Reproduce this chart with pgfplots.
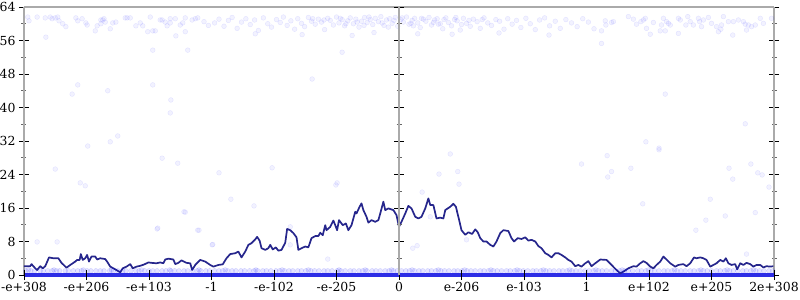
\documentclass[border=0pt]{standalone}
\usepackage{fontspec}
\setmainfont{DejaVu Serif}
\usepackage{pgfplots}
\pgfplotsset{compat=1.18}
\definecolor{lineblue}{RGB}{38,38,140}
\definecolor{zeroblue}{RGB}{45,45,230}
\definecolor{axgray}{RGB}{170,170,170}
\begin{document}
\begin{tikzpicture}
\useasboundingbox (-24bp,-25bp) rectangle (776bp,275bp);
\pgfplotsset{
  every axis/.append style={
    scale only axis, width=750bp, height=268bp,
    ymin=0, ymax=64,
    tick label style={font=\fontsize{12.5}{14}\selectfont},
    /pgf/number format/assume math mode=true,
    major tick length=10bp, minor tick length=5bp, tick align=center,
    every major tick/.style={black, line width=0.9bp},
    every minor tick/.style={gray!80!black, line width=0.8bp},
  },
  pts/.style={only marks, mark=*, mark size=2.4bp,
    mark options={draw=blue, fill=blue, draw opacity=0.09, fill opacity=0.05}},
}
\begin{axis}[
  at={(0,0)}, anchor=south west,
  xmin=0, xmax=12,
  axis x line*=top, axis y line*=box,
  xtick=\empty,
  ytick={0,8,...,64}, minor y tick num=1,
  ytick pos=both, yticklabel pos=left,
  axis line style={draw=axgray, line width=1.6bp, -},
  clip=false,
]
% top band
\addplot[pts] coordinates {
(0.06,61.6)(0.08,60.7)(0.21,61.6)(0.34,61.4)(0.42,61.6)(0.45,61.2)(0.50,61.4)(0.54,61.6)(0.56,60.7)(0.62,60.0)(0.67,59.3)(0.35,56.8)(0.83,61.4)(0.86,60.7)(0.93,61.2)(0.99,60.2)(1.01,59.7)(1.14,58.3)(1.17,59.5)(1.23,60.0)(1.23,60.9)(1.26,60.9)(1.28,61.2)(1.30,60.4)(1.38,58.8)(1.42,60.2)(1.47,60.4)(1.62,61.4)(1.65,61.4)(1.70,61.4)(1.79,59.5)(1.86,60.2)(1.90,59.5)(1.98,58.1)(2.02,61.6)(2.06,58.3)(2.10,58.3)(2.18,60.9)(2.21,60.9)(2.26,60.4)(2.29,59.5)(2.34,61.2)(2.34,60.2)(2.42,61.2)(2.43,57.1)(2.50,59.7)(2.54,60.2)(2.58,61.4)(2.58,58.1)(2.69,60.9)(2.74,61.2)(2.78,61.4)(2.88,60.5)(2.95,59.6)
(3.05,60.2)(3.12,61.1)(3.20,59.4)(3.27,60.8)(3.33,61.5)(3.41,58.9)(3.48,60.4)(3.55,61.2)(3.62,59.8)(3.69,60.9)(3.75,58.4)(3.83,61.4)(3.90,60.0)(3.96,59.2)(4.04,61.0)(4.10,60.3)(4.15,61.6)(4.21,59.6)(4.27,60.7)(4.33,58.7)(4.38,61.2)(4.44,60.1)(4.49,59.3)(4.55,61.5)(4.60,60.6)(4.66,59.9)(4.71,61.1)(4.76,60.4)(4.81,58.6)(4.86,61.3)(4.90,60.8)(4.95,59.7)(5.00,61.6)(5.04,60.2)(5.09,61.0)(5.13,59.5)(5.18,60.7)(5.22,61.4)(5.27,60.0)(5.31,61.1)(5.36,59.2)(5.40,60.6)(5.45,61.5)(5.49,60.3)(5.54,61.0)(5.58,59.8)(5.62,61.3)(5.67,60.5)(5.71,61.7)(5.76,59.6)(5.80,60.9)(5.85,61.2)(5.89,60.1)(5.94,61.5)(5.98,59.4)(6.03,61.0)(6.07,60.4)(6.12,61.6)(6.16,59.9)(6.21,60.8)(6.25,61.3)(6.30,60.2)(6.34,59.1)(6.39,61.1)(6.43,60.6)(6.48,61.5)(6.52,59.7)(6.57,60.9)(6.61,61.2)(6.66,60.0)(6.70,58.8)(6.75,61.4)(6.79,60.3)(6.84,59.5)(6.89,61.0)(6.93,60.7)(6.98,58.5)(7.03,61.3)(7.08,60.1)(7.14,59.4)(7.19,61.1)(7.25,60.5)(7.30,58.9)(7.36,61.4)(7.42,60.2)(7.48,59.6)(7.55,61.0)(7.61,60.6)(7.68,58.7)(7.74,61.2)(7.81,59.9)(7.88,60.8)(7.95,59.1)(8.03,61.3)(8.10,60.0)(8.18,58.6)(8.25,60.9)(8.33,61.4)(8.41,59.5)(8.50,60.6)(8.58,58.9)(8.67,61.0)(8.76,60.2)(8.85,59.3)(8.94,61.2)(9.03,60.4)(9.12,58.8)
(4.45,57.4)(5.60,57.9)(6.30,57.6)(7.60,57.8)(5.25,57.2)(6.85,57.5)(3.70,57.6)(8.40,57.3)
(4.62,61.2)(4.80,60.9)(5.06,61.3)(5.33,60.4)(5.52,61.6)(5.73,60.2)(5.92,60.8)(6.05,61.4)(6.19,60.1)(6.36,61.3)(6.55,60.3)(6.72,61.0)(6.91,61.5)(7.12,60.8)(7.33,61.0)(5.15,60.0)(5.44,59.6)(5.83,59.2)(6.23,59.5)(6.63,59.9)(7.00,59.8)
(9.30,60.7)(9.31,59.7)(9.24,58.3)(9.40,60.3)(9.43,60.5)(9.67,61.7)(9.75,61.1)(9.80,59.9)(9.87,60.5)(9.91,60.9)(9.94,61.3)(9.96,58.9)(10.02,57.5)(10.07,60.3)(10.18,58.3)(10.20,59.7)(10.23,61.3)(10.26,58.3)(10.28,60.5)(10.31,60.1)(10.34,59.7)(10.47,61.3)(10.50,60.9)(10.47,57.7)(10.59,59.7)(10.62,61.7)(10.66,60.5)(10.71,59.7)(10.79,61.3)(10.81,60.5)(10.84,59.3)(10.87,60.9)(10.95,61.5)(11.00,60.1)(11.08,59.3)(11.11,58.1)(11.15,58.7)(11.16,59.7)(11.19,61.7)(11.27,60.5)(11.34,57.3)(11.35,60.5)(11.43,60.9)(11.51,60.5)(11.54,59.9)(11.56,58.5)(11.59,59.7)(11.64,59.3)(11.70,59.7)(11.78,61.3)(11.83,60.1)(11.96,61.3)(9.24,55.3)
};
% sparse middle points
\addplot[pts] coordinates {
(2.06,53.7)(2.62,53.7)(0.86,45.4)(0.77,43.2)(2.06,45.4)(1.34,44.0)(2.35,41.8)(2.34,38.7)(1.50,33.2)(1.38,31.8)(1.02,30.8)
(0.50,25.3)(0.90,22.0)(0.98,21.3)(0.21,7.9)(0.53,7.9)(2.21,27.9)(2.46,26.7)(2.58,15.0)(2.14,11.2)(2.78,10.7)
(3.12,24.4)(3.97,25.6)(3.31,18.1)(3.68,16.5)(5.01,22.0)(3.01,7.2)(4.26,7.2)(4.86,3.8)(5.09,53.2)(4.61,46.8)
(4.99,21.5)(4.26,11.5)(2.56,15.1)(2.13,11.0)(2.80,10.7)(3.02,7.3)
(6.82,28.9)(6.64,24.1)(6.94,24.7)(6.96,21.7)(6.37,19.8)(8.92,26.5)(6.22,6.4)(6.29,7.0)(6.50,13.9)(7.08,8.4)
(9.33,28.5)(9.40,24.7)(9.34,23.4)(9.71,25.5)(9.90,17.0)(10.16,29.9)(11.28,25.5)(11.63,26.5)(11.74,24.4)(11.81,23.9)(11.34,22.9)(10.98,18.1)(10.91,13.1)(11.22,14.1)(11.70,14.9)(10.75,10.7)(11.56,5.0)(11.92,21.0)
(10.26,43.2)(11.54,36.1)(9.95,31.8)(10.16,30.3)
};
% band at 1
\addplot[pts, mark options={draw=blue, fill=blue, draw opacity=0.14, fill opacity=0.10}] coordinates {
(0.03,1)(0.11,1)(0.17,1)(0.26,1)(0.31,1)(0.38,1)(0.45,1)(0.52,1)(0.57,1)(0.66,1)(0.71,1)(0.79,1)(0.86,1)(0.92,1)(1.01,1)(1.07,1)(1.15,1)(1.22,1)(1.28,1)(1.37,1)(1.43,1)(1.50,1)(1.58,1)(1.63,1)(1.71,1)(1.79,1)(1.84,1)(1.93,1)(2.00,1)(2.06,1)(2.13,1)(2.21,1)(2.27,1)(2.35,1)(2.41,1)(2.48,1)(2.56,1)(2.62,1)(2.70,1)(2.77,1)(2.83,1)(2.91,1)(2.97,1)(3.05,1)(3.12,1)(3.18,1)(3.26,1)(3.33,1)(3.39,1)(3.47,1)(3.53,1)(3.61,1)(3.68,1)(3.74,1)(3.82,1)(3.88,1)(3.95,1)(4.03,1)(4.09,1)(4.17,1)(4.24,1)(4.30,1)(4.38,1)(4.44,1)(4.51,1)(4.59,1)(4.65,1)(4.72,1)(4.80,1)(4.86,1)(4.93,1)(5.01,1)(5.07,1)(5.14,1)(5.22,1)(5.28,1)(5.36,1)(5.42,1)(5.49,1)(5.57,1)(5.63,1)(5.70,1)(5.78,1)(5.84,1)(5.91,1)(5.97,1)(6.04,1)(6.11,1)(6.17,1)(6.25,1)(6.32,1)(6.38,1)(6.46,1)(6.52,1)(6.59,1)(6.67,1)(6.73,1)(6.80,1)(6.88,1)(6.94,1)(7.01,1)(7.09,1)(7.15,1)(7.22,1)(7.30,1)(7.36,1)(7.43,1)(7.51,1)(7.57,1)(7.64,1)(7.72,1)(7.78,1)(7.85,1)(7.93,1)(7.99,1)(8.06,1)(8.14,1)(8.20,1)(8.27,1)(8.35,1)(8.41,1)(8.48,1)(8.56,1)(8.62,1)(8.69,1)(8.77,1)(8.83,1)(8.90,1)(8.98,1)(9.04,1)(9.11,1)(9.19,1)(9.25,1)(9.32,1)(9.40,1)(9.46,1)(9.53,1)(9.61,1)(9.67,1)(9.74,1)(9.82,1)(9.88,1)(9.95,1)(10.03,1)(10.09,1)(10.16,1)(10.24,1)(10.30,1)(10.37,1)(10.45,1)(10.51,1)(10.58,1)(10.66,1)(10.72,1)(10.79,1)(10.87,1)(10.93,1)(11.00,1)(11.08,1)(11.14,1)(11.21,1)(11.29,1)(11.35,1)(11.42,1)(11.50,1)(11.56,1)(11.63,1)(11.71,1)(11.77,1)(11.84,1)(11.92,1)(11.98,1)
(0.07,1.2)(0.48,1.2)(0.95,1.2)(1.40,1.2)(1.88,1.2)(2.33,1.2)(2.80,1.2)(3.22,1.2)(3.71,1.2)(4.13,1.2)(4.55,1.2)(5.04,1.2)(5.46,1.2)(5.88,1.2)(6.21,1.2)(6.63,1.2)(7.05,1.2)(7.47,1.2)(7.89,1.2)(8.31,1.2)(8.73,1.2)(9.15,1.2)(9.57,1.2)(9.99,1.2)(10.41,1.2)(10.83,1.2)(11.25,1.2)(11.67,1.2)
};
% dense row at 0
\addplot[draw=zeroblue, line width=3.2bp] coordinates {(0,0) (12,0)};
% running line
\addplot[lineblue, line width=1.7bp, line join=round] coordinates {
(0.00,2.1)(0.10,2.1)(0.12,2.6)(0.18,1.6)(0.21,1.2)(0.26,2.1)(0.30,1.6)(0.34,2.1)(0.40,4.2)(0.47,4.0)(0.55,4.0)(0.60,2.9)(0.68,1.75)(0.75,2.5)(0.82,3.2)(0.85,3.6)(0.89,3.6)(0.91,5.0)(0.94,3.6)(0.98,4.0)(1.01,4.8)(1.04,3.2)(1.08,4.4)(1.14,4.4)(1.17,3.7)(1.22,4.0)(1.30,3.8)(1.33,3.2)(1.38,2.0)(1.46,1.35)(1.54,0.65)(1.58,1.6)(1.64,2.0)(1.70,2.6)(1.74,1.6)(1.80,2.0)(1.86,2.2)(1.92,2.5)(1.99,3.0)(2.04,2.9)(2.12,2.8)(2.18,3.0)(2.23,2.8)(2.26,3.7)(2.31,3.9)(2.39,3.7)(2.42,2.6)(2.47,2.9)(2.52,3.5)(2.60,2.9)(2.66,2.8)(2.69,1.2)(2.74,2.4)
(2.82,3.6)(2.90,3.2)(2.98,2.4)(3.03,2.0)(3.11,2.4)(3.18,2.55)(3.24,4.0)(3.30,5.0)(3.38,5.2)(3.43,5.6)(3.48,4.2)(3.54,5.6)(3.59,7.2)(3.64,7.6)(3.70,8.5)(3.73,9.1)(3.77,8.2)(3.80,6.4)(3.86,6.0)(3.91,6.4)(3.94,7.2)(3.98,6.1)(4.03,6.6)(4.07,5.8)(4.12,6.0)(4.18,7.7)(4.21,11.0)(4.26,10.7)(4.31,10.0)(4.36,9.0)(4.39,6.0)(4.44,6.4)(4.50,6.8)(4.55,6.6)(4.60,8.8)(4.66,9.3)(4.71,9.3)(4.74,10.1)(4.78,9.5)(4.82,11.9)(4.84,10.7)(4.90,11.5)(4.95,13.0)(4.98,11.9)(5.01,10.7)(5.04,13.1)(5.10,11.9)(5.15,12.3)(5.19,10.7)(5.24,11.9)(5.30,15.1)(5.32,14.7)(5.37,16.3)(5.40,17.1)(5.43,15.5)(5.48,13.9)(5.51,12.5)(5.56,13.1)(5.62,12.7)(5.67,13.1)(5.70,14.7)(5.75,17.5)(5.78,15.5)(5.83,15.9)(5.91,15.5)(5.96,14.3)
(6.00,11.5)(6.04,12.7)(6.10,14.7)(6.15,16.5)(6.20,15.9)(6.26,13.9)(6.31,13.5)(6.36,13.9)(6.42,15.9)(6.47,18.3)(6.50,16.7)(6.55,16.7)(6.60,13.5)(6.66,13.7)(6.71,13.5)(6.74,15.5)(6.82,16.3)(6.87,17.0)(6.91,16.3)(6.95,13.9)(7.00,10.7)(7.06,9.6)(7.11,10.2)(7.17,9.8)(7.22,10.9)(7.26,10.2)(7.30,8.8)(7.35,8.0)(7.40,8.0)(7.46,7.2)(7.51,6.8)(7.56,8.0)(7.62,10.0)(7.67,10.7)(7.75,10.5)(7.80,8.8)(7.84,8.0)(7.90,8.8)(7.96,8.6)(8.02,9.0)
(8.07,8.2)(8.12,8.4)(8.18,8.0)(8.23,6.9)(8.28,6.4)(8.34,5.2)(8.39,4.8)(8.44,4.2)(8.50,5.2)(8.55,5.2)(8.60,4.8)(8.66,4.2)(8.71,3.6)(8.76,3.2)(8.82,2.1)(8.87,2.4)(8.92,2.0)(8.98,2.8)(9.03,3.3)(9.08,2.1)(9.14,2.8)(9.22,3.7)
(9.32,3.6)(9.40,2.4)(9.48,1.2)(9.54,0.4)(9.59,0.8)(9.67,1.6)(9.75,2.1)(9.80,2.0)(9.86,2.8)(9.91,3.3)(9.96,2.9)(10.02,2.0)(10.07,1.6)(10.12,2.4)(10.18,3.2)(10.23,4.4)(10.28,3.7)(10.34,2.8)(10.42,2.0)(10.47,2.4)(10.55,2.6)(10.60,2.1)(10.66,2.8)(10.72,4.2)(10.76,4.0)(10.82,4.2)(10.87,4.0)(10.92,3.6)(10.98,2.0)(11.03,2.4)(11.08,2.8)(11.14,3.6)(11.19,3.2)(11.23,4.0)(11.27,2.8)(11.32,2.4)(11.38,2.6)(11.41,1.35)(11.46,2.8)(11.51,2.4)(11.56,2.9)(11.62,2.6)(11.67,2.0)(11.72,2.4)(11.78,2.4)(11.83,1.8)(11.88,2.1)(11.94,2.0)(11.99,2.1)
};
\end{axis}
\begin{axis}[
  at={(0,0)}, anchor=south west,
  xmin=-6, xmax=6,
  axis x line=bottom, axis y line=middle,
  hide obscured x ticks=false,
  x axis line style={draw=none},
  y axis line style={draw=axgray, line width=1.6bp, -},
  xtick={-6,...,6},
  xticklabels={-e+308,-e+206,-e+103,-1,-e-102,-e-205,0,e-206,e-103,1,e+102,e+205,2e+308},
  ytick={0,8,...,64}, minor y tick num=1,
  yticklabels={},
  xticklabel style={yshift=1bp},
]
\end{axis}
\end{tikzpicture}
\end{document}
